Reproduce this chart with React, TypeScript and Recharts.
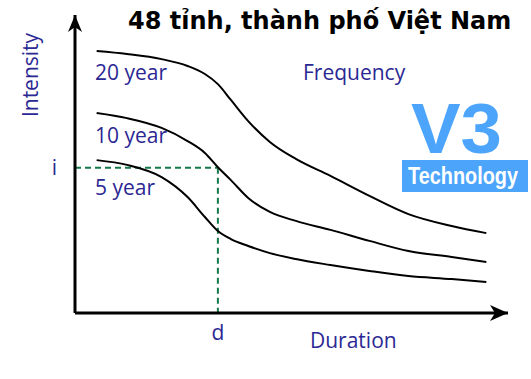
import { ComposedChart, Line, XAxis, YAxis, ReferenceLine, ReferenceDot } from 'recharts';

// duration (0-100) and intensity (0-100) are arbitrary units
const durations = [5, 12, 20, 26, 30, 33, 36, 40, 45, 51, 59, 68, 77, 87, 95];
const year20 = [87.9, 86.9, 85.2, 82.9, 80.2, 76.8, 71.5, 64.4, 57.4, 51.7, 46.0, 39.3, 33.2, 29.2, 26.8];
const year10 = [67.1, 65.4, 62.1, 57.7, 53.7, 48.9, 44.6, 38.6, 33.9, 30.9, 27.9, 24.2, 20.8, 18.8, 17.1];
const year5 = [51.3, 49.7, 45.6, 38.9, 32.2, 27.5, 24.8, 22.5, 20.1, 18.1, 16.1, 14.1, 12.4, 11.4, 10.4];
const seriesKeys = ['y20', 'y10', 'y5'];
const dValue = 33;
const iValue = 48.7;

const data = durations.map((d, i) => ({ d, y20: year20[i], y10: year10[i], y5: year5[i] }));

const textColor = '#2b2893';
const dashColor = '#16794a';
const logoColor = '#4ca5fb';
const font = "'Open Sans', 'Noto Sans', sans-serif";

const ArrowRight = (props: any) => {
  const { cx, cy } = props;
  return <path d={`M${cx},${cy} L${cx - 18},${cy - 8} L${cx - 13},${cy} L${cx - 18},${cy + 8} Z`} fill="#000" />;
};

const ArrowUp = (props: any) => {
  const { cx, cy } = props;
  return <path d={`M${cx},${cy} L${cx - 7},${cy + 17} L${cx},${cy + 12} L${cx + 7},${cy + 17} Z`} fill="#000" />;
};

export default function App() {
  return (
    <div style={{ position: 'absolute', left: 0, top: 0, width: 531, height: 379, background: '#fff' }}>
      <ComposedChart width={531} height={379} data={data} margin={{ top: 15, right: 23, left: 0, bottom: 0 }}>
        <XAxis
          dataKey="d"
          type="number"
          domain={[0, 100]}
          height={66}
          ticks={[dValue]}
          tickFormatter={() => 'd'}
          tickLine={false}
          tickMargin={6}
          axisLine={{ stroke: '#000', strokeWidth: 3 }}
          tick={{ fill: textColor, fontSize: 21, fontFamily: font }}
        />
        <YAxis
          type="number"
          domain={[0, 100]}
          width={75}
          ticks={[iValue]}
          tickFormatter={() => 'i'}
          tickLine={false}
          tickMargin={12}
          axisLine={{ stroke: '#000', strokeWidth: 3 }}
          tick={{ fill: textColor, fontSize: 21, fontFamily: font }}
        />
        <ReferenceLine
          segment={[{ x: 0, y: iValue }, { x: dValue, y: iValue }]}
          stroke={dashColor}
          strokeWidth={2}
          strokeDasharray="6 4"
        />
        <ReferenceLine
          segment={[{ x: dValue, y: iValue }, { x: dValue, y: 0 }]}
          stroke={dashColor}
          strokeWidth={2}
          strokeDasharray="6 4"
        />
        {seriesKeys.map((k) => (
          <Line
            key={k}
            dataKey={k}
            type="monotone"
            stroke="#000"
            strokeWidth={2}
            dot={false}
            isAnimationActive={false}
          />
        ))}
        <ReferenceDot x={100} y={0} r={0} ifOverflow="visible" shape={ArrowRight} />
        <ReferenceDot x={0} y={100} r={0} ifOverflow="visible" shape={ArrowUp} />
      </ComposedChart>
      <svg width={531} height={379} style={{ position: 'absolute', left: 0, top: 0, pointerEvents: 'none' }}>
        <text x={128} y={29} fontFamily="'DejaVu Sans', sans-serif" fontWeight="bold" fontSize={24} fill="#000">
          48 tỉnh, thành phố Việt Nam
        </text>
        <g fontFamily={font} fontSize={21} fill={textColor}>
          <text x={95} y={80}>20 year</text>
          <text x={95} y={143}>10 year</text>
          <text x={95} y={195}>5 year</text>
          <text x={303} y={80}>Frequency</text>
          <text x={310} y={348}>Duration</text>
          <text x={38} y={75} textAnchor="middle" transform="rotate(-90 38 75)">Intensity</text>
        </g>
        <text x={411} y={153} fontFamily="'Liberation Sans', Arial, sans-serif" fontWeight="bold" fontSize={70} fill={logoColor} textLength={91} lengthAdjust="spacingAndGlyphs">
          V3
        </text>
        <rect x={402} y={160} width={126} height={32} fill={logoColor} />
        <text x={408} y={184} fontFamily="'Liberation Sans Narrow', 'Liberation Sans', sans-serif" fontWeight="bold" fontSize={24} fill="#fff" textLength={110} lengthAdjust="spacingAndGlyphs">
          Technology
        </text>
      </svg>
    </div>
  );
}
